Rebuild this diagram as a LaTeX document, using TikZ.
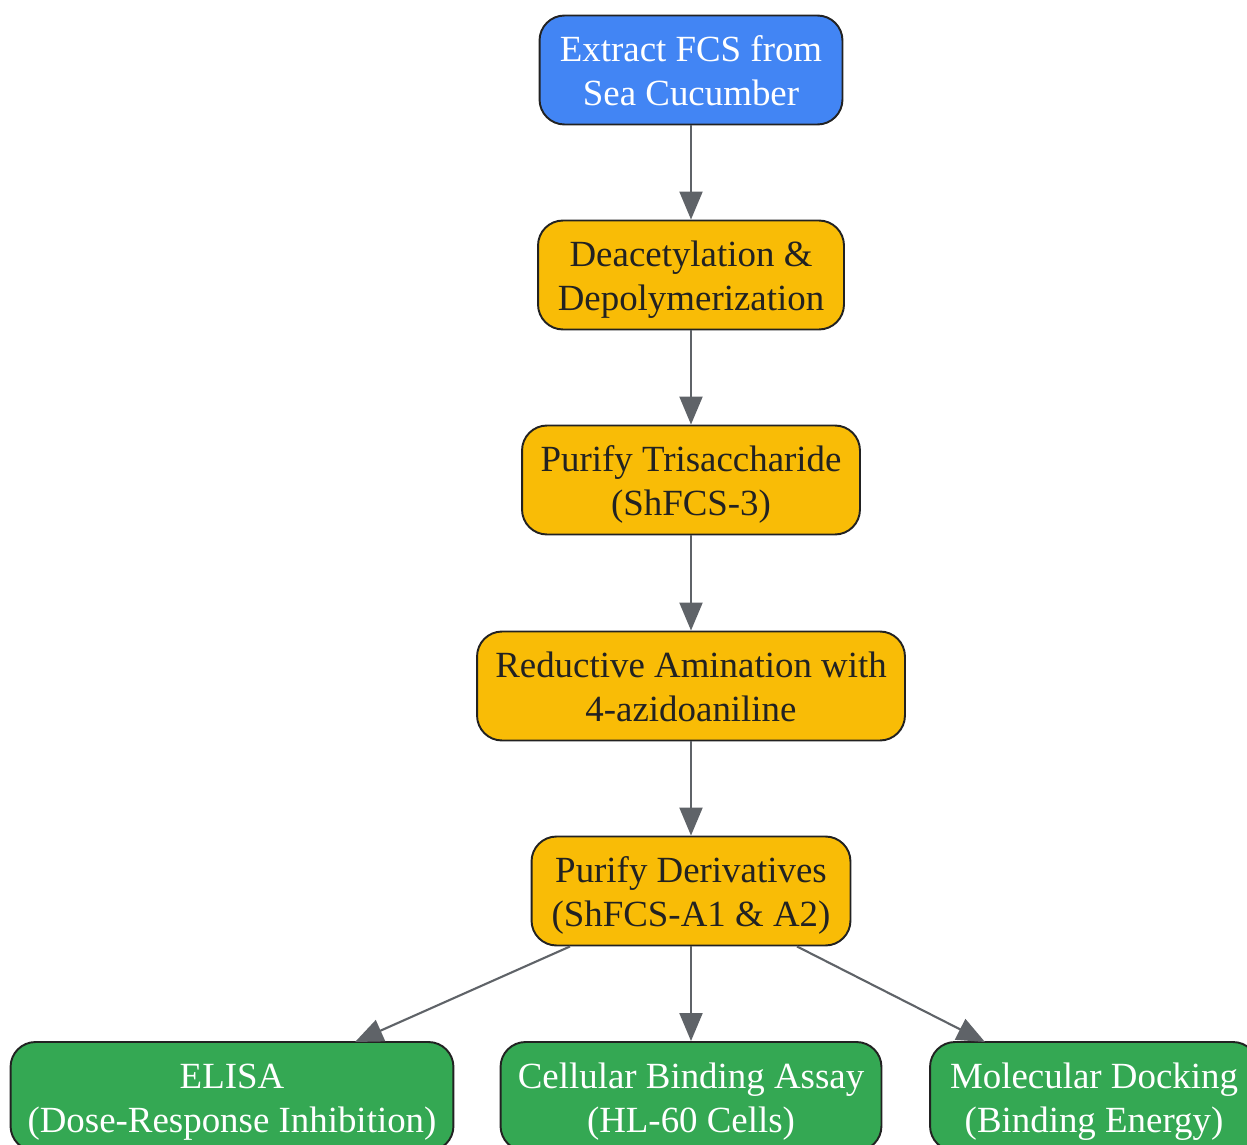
\documentclass[tikz,border=0pt]{standalone}
\usepackage{fontspec}
\setmainfont{Liberation Serif}
\usetikzlibrary{arrows.meta}
\definecolor{stepblue}{HTML}{4285F4}
\definecolor{stepyellow}{HTML}{F9BC06}
\definecolor{stepgreen}{HTML}{34A853}
\definecolor{edgegray}{HTML}{5F6368}
\definecolor{inkdark}{HTML}{222222}
\begin{document}
\begin{tikzpicture}[x=0.02cm, y=-0.02cm,
        box/.style={draw=inkdark, line width=1.1pt, rounded corners=0.5cm, align=center, minimum height=2.18cm, inner sep=0pt, text height=43.8pt, text depth=3.4pt, font=\fontsize{21}{25}\selectfont},
        startbox/.style={box, fill=stepblue, text=white},
        procbox/.style={box, fill=stepyellow, text=inkdark},
        testbox/.style={box, fill=stepgreen, text=white},
        link/.style={draw=edgegray, line width=1.2pt, -{Triangle[length=0.56cm, width=0.46cm]}}]
        \useasboundingbox (0,0) rectangle (1247,1145);
        \node[startbox, minimum width=6.06cm] (extract) at (691,70) {Extract FCS from\\Sea Cucumber};
        \node[procbox, minimum width=6.12cm] (deacetyl) at (691,275) {Deacetylation \&\\Depolymerization};
        \node[procbox, minimum width=6.76cm] (purify) at (691,480) {Purify Trisaccharide\\(ShFCS-3)};
        \node[procbox, minimum width=8.56cm] (amination) at (691,686) {Reductive Amination with\\4-azidoaniline};
        \node[procbox, minimum width=6.38cm] (derivs) at (691,891) {Purify Derivatives\\(ShFCS-A1 \& A2)};
        \node[testbox, minimum width=8.86cm] (elisa) at (232,1096.5) {ELISA\\(Dose-Response Inhibition)};
        \node[testbox, minimum width=7.62cm] (cellular) at (691,1096.5) {Cellular Binding Assay\\(HL-60 Cells)};
        \node[testbox, minimum width=6.56cm] (docking) at (1094,1096.5) {Molecular Docking\\(Binding Energy)};
        \draw[link] (extract) -- (deacetyl);
        \draw[link] (deacetyl) -- (purify);
        \draw[link] (purify) -- (amination);
        \draw[link] (amination) -- (derivs);
        \draw[link] (derivs.south) ++(-121,0) -- (355,1042);
        \draw[link] (derivs) -- (cellular);
        \draw[link] (derivs.south) ++(106,0) -- (985,1042);
\end{tikzpicture}
\end{document}
